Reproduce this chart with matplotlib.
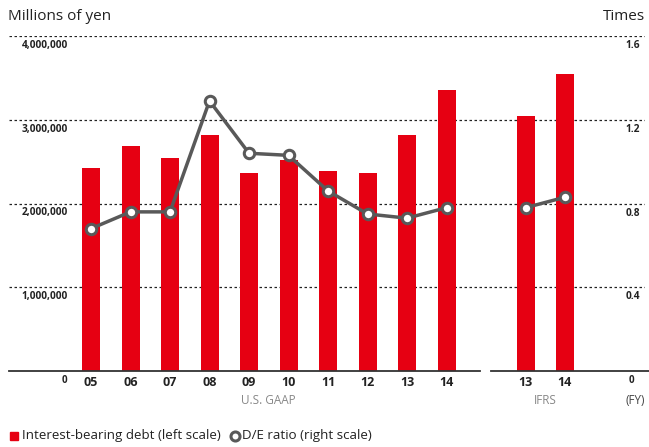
import matplotlib
matplotlib.use("Agg")
import matplotlib.pyplot as plt
import matplotlib.transforms as mtransforms
from matplotlib.lines import Line2D

# ---- data ----
gaap_years = ["05", "06", "07", "08", "09", "10", "11", "12", "13", "14"]
gaap_debt = [2420000, 2690000, 2540000, 2820000, 2370000, 2520000, 2390000, 2370000, 2820000, 3350000]
gaap_de = [0.68, 0.76, 0.76, 1.29, 1.04, 1.03, 0.86, 0.75, 0.73, 0.78]
ifrs_years = ["13", "14"]
ifrs_debt = [3040000, 3550000]
ifrs_de = [0.78, 0.83]
left_ticks = [1000000, 2000000, 3000000, 4000000]
right_ticks = [0.4, 0.8, 1.2, 1.6]

RED = "#E60012"
GRAY = "#595959"
FONT = "Open Sans"
plt.rcParams['font.family'] = [FONT, 'DejaVu Sans']

W, H = 649, 447
fig = plt.figure(figsize=(W / 100, H / 100), dpi=100)

x0, x1 = 9, 645
y_top, y_base = 36, 371
ax = fig.add_axes([x0 / W, 1 - y_base / H, (x1 - x0) / W, (y_base - y_top) / H])
ax2 = ax.twinx()
ax.set_zorder(1)
ax2.set_zorder(2)
ax.patch.set_visible(False)
ax2.patch.set_visible(False)

gaap_x = list(range(len(gaap_years)))
ifrs_x = [len(gaap_years) + 1 + i for i in range(len(ifrs_years))]

px_per_unit = 39.5
xl0 = (x0 - 91) / px_per_unit
xl1 = xl0 + (x1 - x0) / px_per_unit
for a in (ax, ax2):
    a.set_xlim(xl0, xl1)
    for s in a.spines.values():
        s.set_visible(False)
    a.tick_params(left=False, right=False, bottom=False, top=False,
                  labelleft=False, labelright=False, labelbottom=False)
ax.set_ylim(0, 4000000)
ax2.set_ylim(0, 1.6)

bw = 18 / px_per_unit
ax.bar(gaap_x, gaap_debt, width=bw, color=RED, zorder=2)
ax.bar(ifrs_x, ifrs_debt, width=bw, color=RED, zorder=2)

for v in left_ticks:
    ax.axhline(v, color="#222222", lw=0.9, ls=(0, (2.0, 2.0)), zorder=1)

mk = dict(marker="o", markersize=7.5, markerfacecolor="white", markeredgecolor=GRAY,
          markeredgewidth=2.2, color=GRAY, lw=2.5, zorder=5, clip_on=False)
ax2.plot(gaap_x, gaap_de, **mk)
ax2.plot(ifrs_x, ifrs_de, **mk)

# baselines
ax.plot([xl0, 9.85], [0, 0], color="#333333", lw=1.3, clip_on=False, zorder=3)
ax.plot([10.12, xl1 + 0.2], [0, 0], color="#333333", lw=1.3, clip_on=False, zorder=3)

# left tick labels (below gridlines)
tl = mtransforms.blended_transform_factory(fig.transFigure, ax.transData)
off = mtransforms.ScaledTranslation(0, -9.5 / 100, fig.dpi_scale_trans)
for v in left_ticks:
    ax.text(68 / W, v, f"{v:,}", transform=tl + off, ha="right", va="center",
            fontsize=7.3, fontweight="bold", color="#222222")
ax.text(67 / W, 0, "0", transform=tl + off, ha="right", va="center",
        fontsize=7, fontweight="bold", color="#222222")
tr = mtransforms.blended_transform_factory(fig.transFigure, ax2.transData)
for v in right_ticks:
    ax2.text(640 / W, v, f"{v:.1f}", transform=tr + off, ha="right", va="center",
             fontsize=7.3, fontweight="bold", color="#222222")
ax2.text(634 / W, 0, "0", transform=tr + off, ha="right", va="center",
         fontsize=7, fontweight="bold", color="#222222")

# x labels
txl = mtransforms.blended_transform_factory(ax.transData, fig.transFigure)
for xi, lab in zip(gaap_x + ifrs_x, gaap_years + ifrs_years):
    ax.text(xi, 1 - 383 / H, lab, transform=txl, ha="center", va="center",
            fontsize=9, fontweight="bold", color="#222222")
ax.text((gaap_x[0] + gaap_x[-1]) / 2, 1 - 400 / H, "U.S. GAAP", transform=txl,
        ha="center", va="center", fontsize=8.5, color="#888888")
ax.text((ifrs_x[0] + ifrs_x[-1]) / 2, 1 - 400 / H, "IFRS", transform=txl,
        ha="center", va="center", fontsize=8.5, color="#888888")
fig.text(645 / W, 1 - 400 / H, "(FY)", ha="right", va="center", fontsize=8.5, color="#444444")

# axis titles
fig.text(8 / W, 1 - 17 / H, "Millions of yen", ha="left", va="center", fontsize=11, color="#222222")
fig.text(645 / W, 1 - 17 / H, "Times", ha="right", va="center", fontsize=11, color="#222222")

# legend
fig.patches.append(plt.Rectangle((10 / W, 1 - 440 / H), 8 / W, 8 / H, transform=fig.transFigure,
                                 color=RED))
fig.text(22 / W, 1 - 436 / H, "Interest-bearing debt (left scale)", ha="left", va="center",
         fontsize=9.6, color="#222222")
fig.lines.append(Line2D([235 / W], [1 - 436 / H], transform=fig.transFigure,
                        marker="o", markersize=6.5, markerfacecolor="white",
                        markeredgecolor=GRAY, markeredgewidth=2.2))
fig.text(242 / W, 1 - 436 / H, "D/E ratio (right scale)", ha="left", va="center",
         fontsize=9.6, color="#222222")

fig.savefig("out.png", dpi=100)
